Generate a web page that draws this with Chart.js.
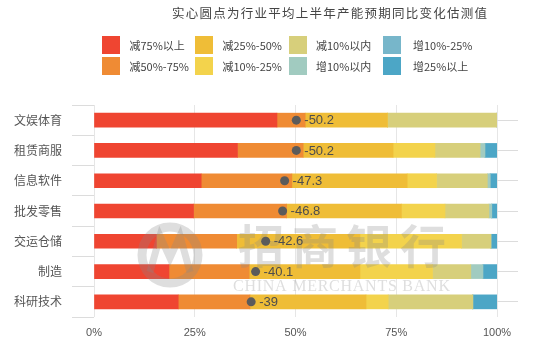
<!DOCTYPE html>
<html>
<head>
<meta charset="utf-8">
<script src="https://cdn.jsdelivr.net/npm/chart.js@4/dist/chart.umd.min.js"></script>
<style>
  html, body { margin: 0; padding: 0; background: #fff; }
  #wrap { width: 550px; height: 349px; }
</style>
</head>
<body>
<div id="wrap"><canvas id="c" width="550" height="349"></canvas></div>
<script>
// Industries (top to bottom)
const industries = ['文娱体育', '租赁商服', '信息软件', '批发零售', '交运仓储', '制造', '科研技术'];

// Expected H1 capacity change bands, share of firms (%)
const bandNames = ['减75%以上', '减50%-75%', '减25%-50%', '减10%-25%', '减10%以内', '增10%以内', '增10%-25%', '增25%以上'];
const bandColors = ['#ef4531', '#ef8b34', '#efbd37', '#f3d34c', '#d7cf7b', '#a1cbc0', '#77b6ca', '#4ca6c6'];

const cut75Plus   = [45.4, 35.6, 26.6, 24.7, 15.5, 18.6, 20.9];
const cut50to75   = [ 7.0, 16.3, 22.5, 23.1, 19.9, 19.9, 17.8];
const cut25to50   = [20.4, 22.3, 28.6, 28.5, 30.6, 27.5, 28.8];
const cut10to25   = [ 0.0, 10.4,  7.3, 10.8, 25.2, 18.0,  5.5];
const cutUnder10  = [27.2, 11.2, 12.6, 10.9,  7.3,  9.5, 21.0];
const riseUnder10 = [ 0.0,  1.2,  0.7,  0.7,  0.0,  3.0,  0.0];
const rise10to25  = [ 0.0,  0.0,  0.0,  0.0,  0.0,  0.0,  0.0];
const rise25Plus  = [ 0.0,  3.0,  1.7,  1.3,  1.5,  3.5,  6.0];

// Industry average estimate of H1 capacity change, y/y (%)
const avgChange = [-50.2, -50.2, -47.3, -46.8, -42.6, -40.1, -39];

const xTickLabels = ['0%', '25%', '50%', '75%', '100%'];
const chartTitle = '实心圆点为行业平均上半年产能预期同比变化估测值';

const bandSeries = [cut75Plus, cut50to75, cut25to50, cut10to25, cutUnder10, riseUnder10, rise10to25, rise25Plus];

const barSets = bandSeries.map((vals, i) => ({
  type: 'bar',
  label: bandNames[i],
  data: vals,
  backgroundColor: bandColors[i],
  borderWidth: 0,
  barThickness: 14,
  yAxisID: 'y',
  order: 1
}));

const avgSet = {
  type: 'line',
  label: '平均',
  data: avgChange.map(v => Math.abs(v)),
  showLine: false,
  pointRadius: 4.5,
  pointHoverRadius: 4.5,
  pointBackgroundColor: '#5b5b5b',
  pointBorderWidth: 0,
  yAxisID: 'y',
  stack: 'avg',
  order: 0
};

const CJK = '"Noto Sans CJK SC", "Noto Sans", sans-serif';

// Title and the two-row legend above the plot
const headerPlugin = {
  id: 'header',
  afterDraw(chart) {
    const ctx = chart.ctx;
    ctx.save();
    ctx.fillStyle = '#444';
    ctx.font = '12.5px ' + CJK;
    ctx.letterSpacing = '1.25px';
    ctx.textBaseline = 'middle';
    ctx.textAlign = 'left';
    ctx.fillText(chartTitle, 172, 13);
    ctx.letterSpacing = '0px';

    const boxX = [102, 195, 289, 383];
    const textX = [129.5, 222.5, 316, 413];
    const rowY = [36, 57];
    ctx.font = '11px ' + CJK;
    for (let c = 0; c < 4; c++) {
      for (let r = 0; r < 2; r++) {
        const i = c * 2 + r;
        ctx.fillStyle = bandColors[i];
        ctx.fillRect(boxX[c], rowY[r], 18, 18);
        ctx.fillStyle = '#444';
        ctx.fillText(bandNames[i], textX[c], rowY[r] + 9.5);
      }
    }
    ctx.restore();
  }
};

// Faint bank emblem and name laid over the bars, under the average dots
const bankMark = {
  id: 'bankMark',
  beforeDatasetDraw(chart, args) {
    if (args.meta.type !== 'line') return;
    const ctx = chart.ctx;
    ctx.save();
    ctx.globalAlpha = 0.28;
    ctx.strokeStyle = '#8a8a8a';
    ctx.fillStyle = '#8a8a8a';
    // emblem ring
    ctx.lineWidth = 9;
    ctx.beginPath();
    ctx.arc(170, 255, 28, 0, Math.PI * 2);
    ctx.stroke();
    // twin peaks inside the ring
    ctx.lineWidth = 7;
    ctx.lineJoin = 'miter';
    ctx.beginPath();
    ctx.moveTo(150, 272);
    ctx.lineTo(160, 236);
    ctx.lineTo(170, 258);
    ctx.lineTo(180, 236);
    ctx.lineTo(190, 272);
    ctx.stroke();
    // name in Chinese
    ctx.font = 'bold 46px ' + CJK;
    ctx.letterSpacing = '8px';
    ctx.textBaseline = 'middle';
    ctx.textAlign = 'left';
    ctx.fillText('招商银行', 238, 246);
    // name in English
    ctx.font = '16px "Liberation Serif", serif';
    ctx.letterSpacing = '0px';
    const en = 'CHINA MERCHANTS BANK';
    const w = ctx.measureText(en).width;
    ctx.letterSpacing = ((217 - w) / (en.length - 1)).toFixed(2) + 'px';
    ctx.fillText(en, 233, 287);
    ctx.restore();
  }
};

// Value text to the right of each average dot
const avgLabels = {
  id: 'avgLabels',
  afterDatasetsDraw(chart) {
    const ctx = chart.ctx;
    chart.data.datasets.forEach((ds, di) => {
      const meta = chart.getDatasetMeta(di);
      if (meta.type !== 'line') return;
      ctx.save();
      ctx.fillStyle = '#4d4d4d';
      ctx.font = '13px "Liberation Sans", Arial, sans-serif';
      ctx.textBaseline = 'middle';
      ctx.textAlign = 'left';
      meta.data.forEach((pt, i) => {
        ctx.fillText(String(avgChange[i]), pt.x + 8, pt.y + 0.5);
      });
      ctx.restore();
    });
  }
};

new Chart(document.getElementById('c'), {
  data: {
    labels: industries,
    datasets: [...barSets, avgSet]
  },
  options: {
    indexAxis: 'y',
    responsive: false,
    devicePixelRatio: 1,
    animation: false,
    layout: { padding: { top: 105, left: 14, right: 32, bottom: 0 } },
    plugins: {
      legend: { display: false },
      title: { display: false },
      tooltip: { enabled: false }
    },
    scales: {
      x: {
        stacked: true,
        min: 0,
        max: 100,
        ticks: {
          stepSize: 25,
          padding: 9,
          color: '#555',
          font: { family: '"Liberation Sans", Arial, sans-serif', size: 11 },
          callback: (v, i) => xTickLabels[i]
        },
        grid: { color: '#e6e6e6', drawTicks: false },
        border: { display: false },
        afterFit(scale) { scale.height = 32; }
      },
      y: {
        stacked: true,
        position: 'left',
        ticks: {
          padding: 10,
          color: '#555',
          font: { family: '"Noto Sans CJK SC", sans-serif', size: 12 }
        },
        grid: { drawOnChartArea: false, tickLength: 22, color: '#dcdcdc' },
        border: { display: false },
        afterFit(scale) { scale.width = 80; }
      },
      yRight: {
        type: 'category',
        position: 'right',
        offset: true,
        ticks: { display: false },
        grid: { drawOnChartArea: false, tickLength: 21, color: '#dcdcdc' },
        border: { display: false },
        afterFit(scale) { scale.width = 21; }
      }
    }
  },
  plugins: [headerPlugin, bankMark, avgLabels]
});
</script>
</body>
</html>
